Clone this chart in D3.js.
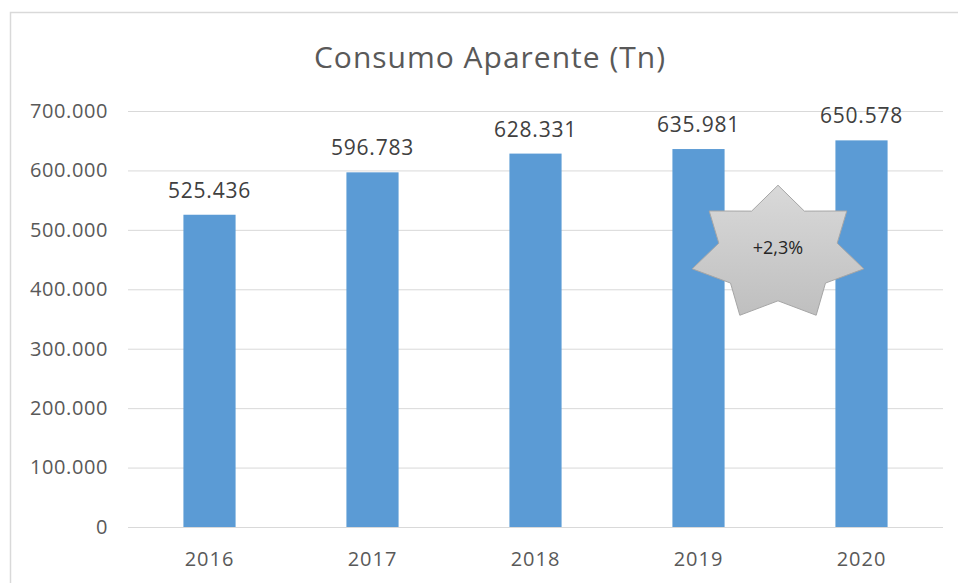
<!DOCTYPE html>
<html>
<head>
<meta charset="utf-8">
<script src="https://cdn.jsdelivr.net/npm/d3@7"></script>
<style>
  body { margin: 0; background: #fff; }
  text { font-family: 'Open Sans', sans-serif; }
</style>
</head>
<body>
<svg id="chart" width="958" height="583"></svg>
<script>
// Data
var years = ['2016', '2017', '2018', '2019', '2020'];
var consumo = [525436, 596783, 628331, 635981, 650578];
var yTicks = [0, 100000, 200000, 300000, 400000, 500000, 600000, 700000];
var annotation = '+2,3%';

var svg = d3.select('#chart');
var margin = { top: 111, right: 15, bottom: 56, left: 128 };
var width = +svg.attr('width') - margin.left - margin.right;
var height = +svg.attr('height') - margin.top - margin.bottom;

var locale = d3.formatLocale({ decimal: ',', thousands: '.', grouping: [3], currency: ['', '€'] });
var fmt = locale.format(',d');

// chart border (only top/left visible in the picture)
svg.append('rect')
  .attr('x', 10.5).attr('y', 12.5)
  .attr('width', 1000).attr('height', 1000)
  .attr('fill', 'none')
  .attr('stroke', '#d9d9d9')
  .attr('stroke-width', 1.5);

svg.append('text')
  .attr('x', 490).attr('y', 68)
  .attr('text-anchor', 'middle')
  .attr('fill', '#595959')
  .style('font-size', '30px')
  .style('letter-spacing', '1px')
  .text('Consumo Aparente (Tn)');

var x = d3.scaleBand().domain(years).range([0, width]).paddingInner(0.68).paddingOuter(0.34);
var y = d3.scaleLinear().domain([0, 700000]).range([height, 0]);

var g = svg.append('g').attr('transform', 'translate(' + margin.left + ',' + margin.top + ')');

// gridlines + y labels
var yAxis = g.append('g')
  .call(d3.axisLeft(y).tickValues(yTicks).tickSize(-width).tickPadding(20).tickFormat(fmt));
yAxis.select('.domain').remove();
yAxis.selectAll('line').attr('stroke', '#d9d9d9');
yAxis.selectAll('text').attr('fill', '#595959')
  .style('font-size', '20px').style('letter-spacing', '0.6px');

// bars
g.selectAll('.bar')
  .data(consumo)
  .enter().append('rect')
  .attr('class', 'bar')
  .attr('x', function(d, i) { return x(years[i]); })
  .attr('y', function(d) { return y(d); })
  .attr('width', x.bandwidth())
  .attr('height', function(d) { return height - y(d); })
  .attr('fill', '#5b9bd5');

// data labels
g.selectAll('.lbl')
  .data(consumo)
  .enter().append('text')
  .attr('class', 'lbl')
  .attr('x', function(d, i) { return x(years[i]) + x.bandwidth() / 2; })
  .attr('y', function(d) { return y(d) - 17; })
  .attr('text-anchor', 'middle')
  .attr('fill', '#404040')
  .style('font-size', '21px')
  .style('letter-spacing', '0.8px')
  .text(function(d) { return fmt(d); });

// x axis
var xAxis = g.append('g')
  .attr('transform', 'translate(0,' + height + ')')
  .call(d3.axisBottom(x).tickSize(0).tickPadding(25));
xAxis.select('.domain').remove();
xAxis.selectAll('text').attr('fill', '#595959')
  .style('font-size', '20px').style('letter-spacing', '1px');

// star annotation between 2019 and 2020
var defs = svg.append('defs');
var grad = defs.append('linearGradient').attr('id', 'starGrad')
  .attr('x1', 0).attr('y1', 0).attr('x2', 0).attr('y2', 1);
grad.append('stop').attr('offset', '0%').attr('stop-color', '#d9d9d9');
grad.append('stop').attr('offset', '100%').attr('stop-color', '#bfbfbf');

var cx = (x('2019') + x('2020')) / 2 + x.bandwidth() / 2 - 2;
var cy = y(460000);
var rx = 88, ry = 68.4, inner = 0.69;
var pts = d3.range(14).map(function(i) {
  var a = -Math.PI / 2 + i * Math.PI / 7;
  var k = i % 2 === 0 ? 1 : inner;
  return [cx + Math.cos(a) * rx * k, cy + Math.sin(a) * ry * k];
});
g.append('path')
  .attr('d', d3.line().curve(d3.curveLinearClosed)(pts))
  .attr('fill', 'url(#starGrad)')
  .attr('stroke', '#a6a6a6')
  .attr('stroke-width', 1);
g.append('text')
  .attr('x', cx).attr('y', cy)
  .attr('text-anchor', 'middle')
  .attr('fill', '#262626')
  .style('font-size', '18px')
  .text(annotation);
</script>
</body>
</html>
